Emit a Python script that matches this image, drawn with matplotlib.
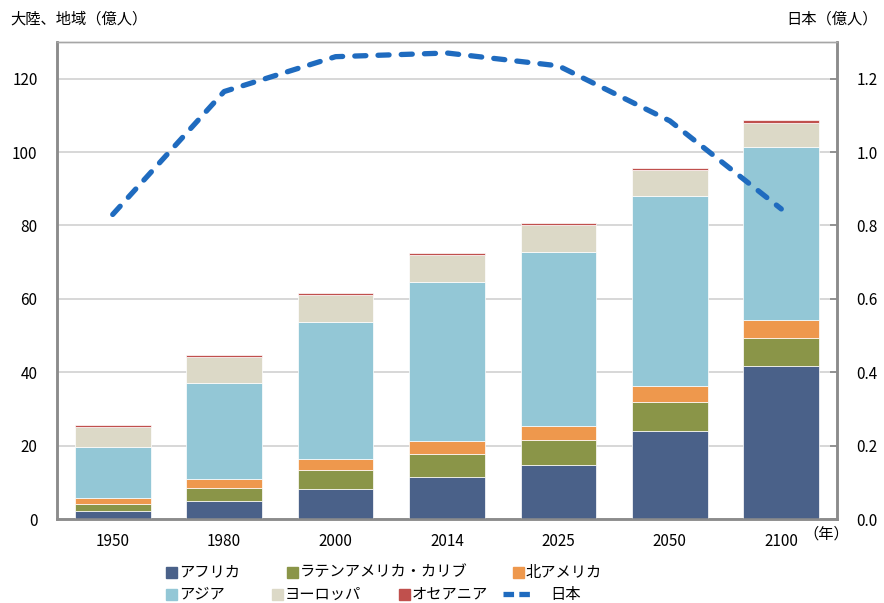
import matplotlib
matplotlib.use('Agg')
import matplotlib.pyplot as plt
from matplotlib.patches import Rectangle
from matplotlib.lines import Line2D
import numpy as np

plt.rcParams['font.family'] = ['Noto Sans CJK JP', 'DejaVu Sans']

# data (population, 100 million)
years = ['1950', '1980', '2000', '2014', '2025', '2050', '2100']
regions = ['アフリカ', 'ラテンアメリカ・カリブ', '北アメリカ', 'アジア', 'ヨーロッパ', 'オセアニア']
africa = [2.3, 4.8, 8.1, 11.4, 14.7, 24.0, 41.8]
latam = [1.7, 3.6, 5.2, 6.2, 6.8, 7.8, 7.4]
n_america = [1.7, 2.5, 3.1, 3.6, 3.9, 4.5, 5.1]
asia = [14.0, 26.3, 37.4, 43.4, 47.4, 51.6, 47.1]
europe = [5.5, 6.9, 7.3, 7.4, 7.3, 7.1, 6.4]
oceania = [0.4, 0.5, 0.5, 0.6, 0.6, 0.7, 0.9]
japan = [0.83, 1.165, 1.26, 1.27, 1.235, 1.085, 0.845]
japan_label = '日本'

colors = ['#4a6189', '#8a9548', '#ee984d', '#93c7d6', '#dcd9c7', '#c0504d']
line_color = '#1f6bbf'
grey = '#8c8c8c'

fig = plt.figure(figsize=(8.84, 6.03), dpi=100)
ax = fig.add_axes([57/884, 1-519/603, (837-57)/884, (519-42)/603])
ax2 = ax.twinx()

x = np.arange(len(years))
series = [africa, latam, n_america, asia, europe, oceania]
bottom = np.zeros(len(years))
for vals, c in zip(series, colors):
    ax.bar(x, vals, bottom=bottom, width=0.68, color=c, edgecolor='white', linewidth=0.5, zorder=3)
    bottom += np.array(vals)

ax.set_xlim(-0.5, len(years) - 0.5)
ax.set_ylim(0, 130)
ax.set_yticks(range(0, 121, 20))
ax.yaxis.grid(True, color='#d4d4d4', linewidth=1.3, zorder=0)
ax.set_axisbelow(True)
ax.set_xticks(x)
ax.set_xticklabels(years)
ax.tick_params(axis='both', length=0, labelsize=11, colors='black')
ax.tick_params(axis='x', pad=10)
ax.tick_params(axis='y', pad=14)

ax2.plot(x, japan, color=line_color, linewidth=3.8, linestyle=(0, (2.1, 2.3)),
         dash_capstyle='round', zorder=5)
ax2.set_ylim(0, 1.3)
ax2.set_yticks(np.arange(0, 1.21, 0.2))
ax2.set_yticklabels(['%.1f' % v for v in np.arange(0, 1.21, 0.2)])
ax2.tick_params(axis='y', direction='in', length=5, width=1.3, color=grey, labelsize=11, pad=14)

for a in (ax, ax2):
    for s in ['left', 'right', 'bottom']:
        a.spines[s].set_color(grey)
        a.spines[s].set_linewidth(1.8)
    a.spines['top'].set_color('#a6a6a6')
    a.spines['top'].set_linewidth(1.0)

fig.text(10/884, 1-19/603, '大陸、地域（億人）', fontsize=11, va='center', ha='left')
fig.text(878/884, 1-19/603, '日本（億人）', fontsize=11, va='center', ha='right')
fig.text(803/884, 1-534/603, '（年）', fontsize=11, va='center', ha='left')

# legend placed by hand
leg_pos = [(166, 572), (287, 572), (513, 572), (166, 594), (272, 594), (399, 594)]
for (px, py), lab, c in zip(leg_pos, regions, colors):
    fig.patches.append(Rectangle((px/884, 1-(py+6)/603), 11/884, 11/603,
                                 transform=fig.transFigure, color=c, figure=fig))
    fig.text((px+13)/884, 1-py/603, lab, fontsize=11, va='center', ha='left')
fig.lines.append(Line2D([503/884, 531/884], [1-594/603, 1-594/603], transform=fig.transFigure,
                        color=line_color, linewidth=3.8, linestyle=(0, (2.0, 1.0)), figure=fig))
fig.text(550/884, 1-594/603, japan_label, fontsize=11, va='center', ha='left')

fig.savefig('out.png', dpi=100)
